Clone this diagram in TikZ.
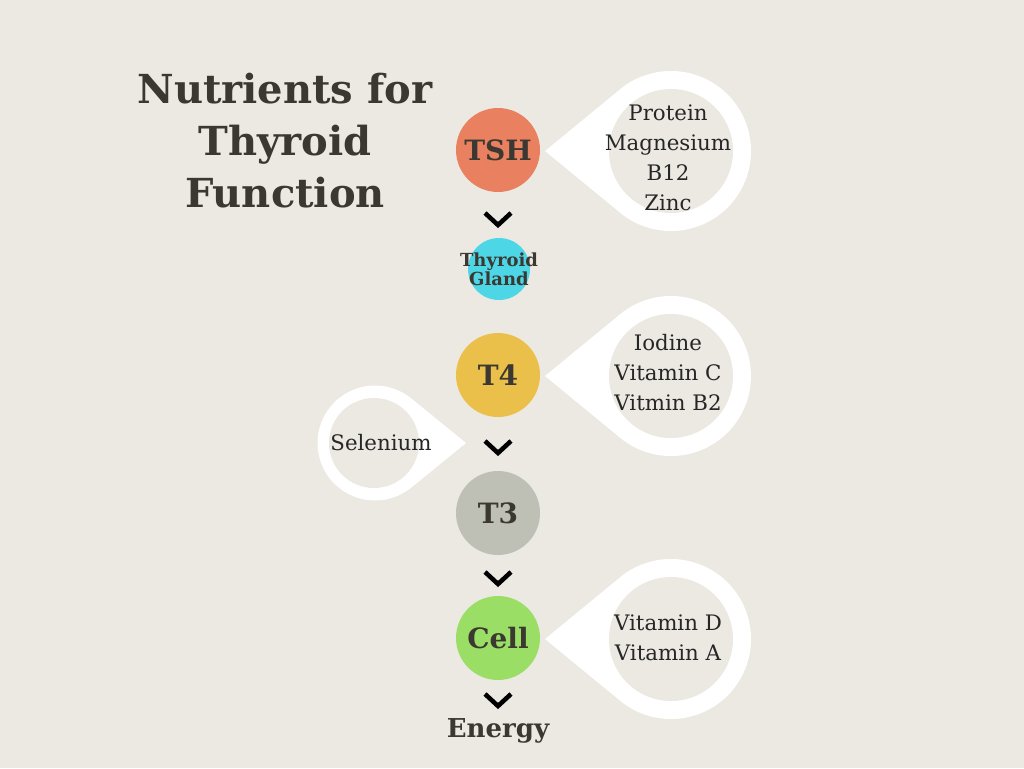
\documentclass[tikz,border=0pt]{standalone}
\usepackage{fontspec}
\setmainfont{DejaVu Serif}
\usepackage{tikz}

\definecolor{bgcol}{HTML}{ECE9E2}
\definecolor{inkcol}{HTML}{3B3832}
\definecolor{tshcol}{HTML}{E98160}
\definecolor{glandcol}{HTML}{4CD6E6}
\definecolor{tfourcol}{HTML}{EBC04A}
\definecolor{tthreecol}{HTML}{BEC0B6}
\definecolor{cellcol}{HTML}{9BDE66}

\begin{document}
\begin{tikzpicture}[x=0.75pt,y=0.75pt,yscale=-1,xscale=1,
    hormone/.style={circle,inner sep=0pt,minimum size=63pt,text=inkcol,
        font=\bfseries\fontsize{21}{24}\selectfont},
    nutr/.style={align=center,inner sep=0.75pt,text=black!85,
        font=\fontsize{16}{22.5}\selectfont},
    chev/.style={line width=3.4pt,black}]
        %set diagram to 1024 x 768
        \fill[bgcol] (0,0) rectangle (1024,768);
        \useasboundingbox (0,0) rectangle (1024,768);

        %Shape: Teardrop [TSH]
        \fill[white] (545,151) -- ([shift={(671,151)}]129.4:80) arc[start angle=129.4,end angle=-129.4,radius=80] -- cycle;
        \fill[bgcol] (671,151) circle[radius=62];
        %Shape: Teardrop [T4]
        \fill[white] (545,376) -- ([shift={(671,376)}]129.4:80) arc[start angle=129.4,end angle=-129.4,radius=80] -- cycle;
        \fill[bgcol] (671,376) circle[radius=62];
        %Shape: Teardrop [Cell]
        \fill[white] (545,639) -- ([shift={(671,639)}]129.4:80) arc[start angle=129.4,end angle=-129.4,radius=80] -- cycle;
        \fill[bgcol] (671,639) circle[radius=62];
        %Shape: Teardrop [Selenium]
        \fill[white] (466,443) -- ([shift={(375,443)}]50.3:57.5) arc[start angle=50.3,end angle=309.7,radius=57.5] -- cycle;
        \fill[bgcol] (374,443) circle[radius=45];

        %Shape: Circle
        \node [hormone,fill=tshcol] (tsh) at (498,150) {TSH};
        %Shape: Circle
        \node [hormone,fill=glandcol,minimum size=46.5pt] (gland) at (499,269) {};
        % Text Node
        \node [text=inkcol,align=center,inner sep=0.75pt,
            font=\bfseries\fontsize{13.5}{13}\selectfont] (glandtxt) at (gland) {Thyroid\\Gland};
        %Shape: Circle
        \node [hormone,fill=tfourcol] (tfour) at (498,375) {T4};
        %Shape: Circle
        \node [hormone,fill=tthreecol] (tthree) at (498,513) {T3};
        %Shape: Circle
        \node [hormone,fill=cellcol] (cell) at (498,638) {Cell};

        % Text Node
        \node [text=inkcol,inner sep=0.75pt,font=\bfseries\fontsize{19.5}{24}\selectfont] (energy) at (498,731) {Energy};
        % Text Node
        \node [text=inkcol,align=center,inner sep=0.75pt,font=\bfseries\fontsize{30}{39}\selectfont] (title) at (285,141) {Nutrients for\\Thyroid\\Function};

        % Text Node
        \node [nutr] (tshnut) at (668,158) {Protein\\Magnesium\\B12\\Zinc};
        % Text Node
        \node [nutr] (tfournut) at (668,373) {Iodine\\Vitamin C\\Vitmin B2};
        % Text Node
        \node [nutr] (cellnut) at (668,638) {Vitamin D\\Vitamin A};
        % Text Node
        \node [nutr] (selnut) at (381,443) {Selenium};

        %Shape: Chevron
        \draw [chev] (485,213) -- (498,225) -- (511,213);
        \draw [chev] (485,441) -- (498,453) -- (511,441);
        \draw [chev] (485,572) -- (498,584) -- (511,572);
        \draw [chev] (485,694) -- (498,706) -- (511,694);

    \end{tikzpicture}
\end{document}
